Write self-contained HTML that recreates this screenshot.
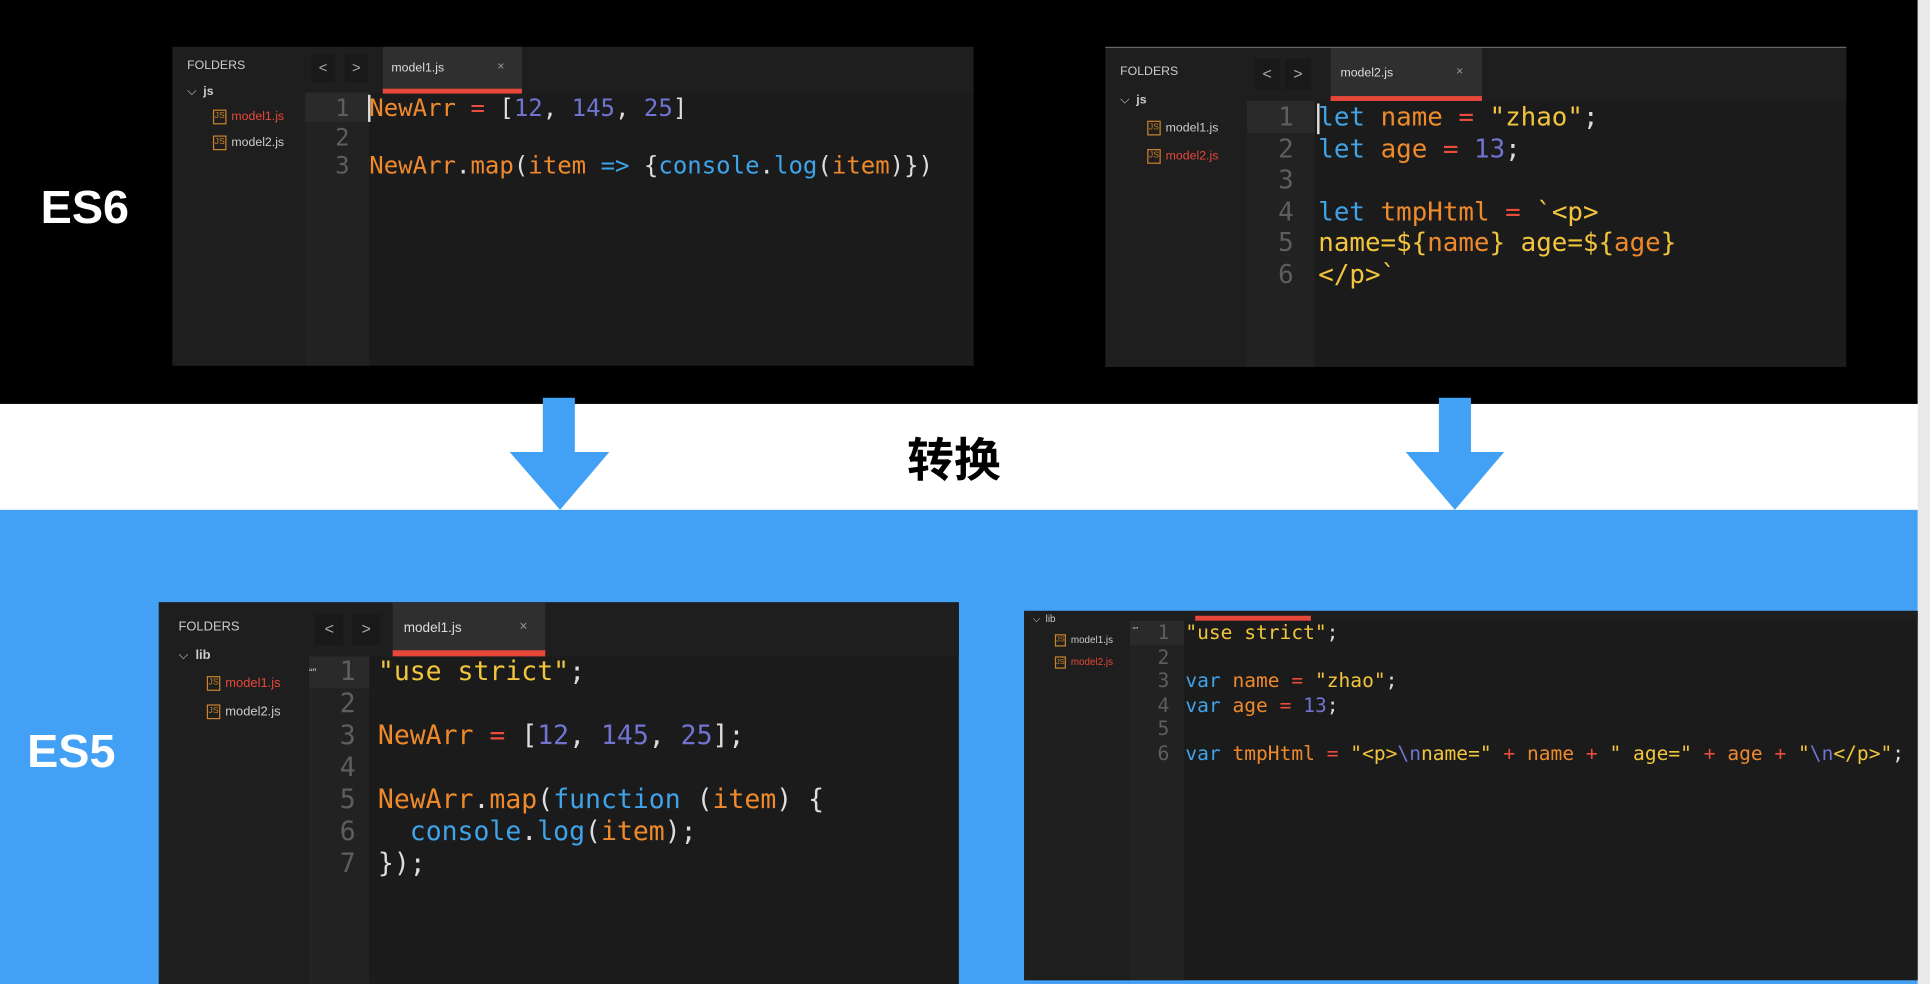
<!DOCTYPE html>
<html><head><meta charset="utf-8">
<style>
html,body{margin:0;padding:0;width:1930px;height:984px;overflow:hidden;background:#fff}
#w{position:absolute;left:0;top:0;width:1568px;height:799px;transform:scale(1.2309,1.2315);transform-origin:0 0;font-family:"Liberation Sans","Noto Sans CJK SC",sans-serif}
.a{position:absolute}
.ed{position:absolute;background:#1b1b1b;overflow:hidden}
.sb{position:absolute;left:0;top:0;bottom:0;background:#1e1e1e}
.gut{position:absolute;bottom:0;background:#222}
.tb{position:absolute;left:0;right:0;top:0;background:#1e1e1e}
.tab{position:absolute;top:0;background:#2f2f2f;color:#ddd}
.ul{position:absolute;background:#e5473b}
.nav{position:absolute;background:#191919;color:#aaa;text-align:center}
.code{position:absolute;font-family:"DejaVu Sans Mono","Liberation Mono",monospace;white-space:pre;color:#ddd}
.ln{position:absolute;font-family:"DejaVu Sans Mono","Liberation Mono",monospace;color:#5e5e5e;text-align:right;white-space:pre}
.o{color:#ef8a2c}.b{color:#3fa3e8}.p{color:#7074d0}.y{color:#f2c53d}.r{color:#ea4c3d}.w{color:#e4e4e4}
.f{position:absolute;color:#ccc;font-size:10px;white-space:nowrap}
.js{display:inline-block;border:1px solid #c8832c;color:#c8832c;font-size:7px;line-height:9px;width:9px;height:10px;text-align:center;margin-right:4px;vertical-align:middle}
.red{color:#e8483a}
</style></head><body><div id="w">
<div class="a" style="left:0;top:0;width:1558px;height:328px;background:#000"></div>
<div class="a" style="left:0;top:414px;width:1558px;height:385px;background:#42a0f5"></div>
<div class="a" style="left:1558px;top:0;width:10px;height:799px;background:#e9e9e9"></div>

<div class="a" style="left:33px;top:148px;color:#fff;font-weight:bold;font-size:38px">ES6</div>
<div class="a" style="left:22px;top:590px;color:#fff;font-weight:bold;font-size:38px">ES5</div>
<div class="a" style="left:737px;top:348px;color:#000;font-weight:bold;font-size:38px;font-family:'Noto Sans CJK SC',sans-serif;line-height:46px">转换</div>

<svg class="a" style="left:0;top:0" width="1568" height="420">
<rect x="441" y="323" width="26" height="45" fill="#42a0f5"/><polygon points="414,367 495,367 455,414" fill="#42a0f5"/>
<rect x="1169" y="323" width="26" height="45" fill="#42a0f5"/><polygon points="1142,367 1222,367 1182,414" fill="#42a0f5"/>
</svg>

<div class="ed" style="left:140px;top:38px;width:651px;height:259px">
 <div class="sb" style="width:108px"></div>
 <div class="gut" style="left:108px;top:37px;width:52px"></div>
 <div class="a" style="left:108px;top:37px;width:52px;height:24px;background:#2a2a2a"></div>
 <div class="tb" style="left:108px;height:37px"></div>
 <div class="nav" style="left:113px;top:6px;width:19px;height:23px;line-height:22px;font-size:12px">&lt;</div>
 <div class="nav" style="left:140px;top:6px;width:19px;height:23px;line-height:22px;font-size:12px">&gt;</div>
 <div class="tab" style="left:171px;width:113px;height:34px;font-size:10px"><span class="a" style="left:7px;top:12px">model1.js</span><span class="a" style="left:93px;top:11px;color:#999">×</span></div>
 <div class="ul" style="left:171px;top:34px;width:113px;height:4px"></div>
 <div class="f" style="left:12px;top:10px">FOLDERS</div>
 <div class="f" style="left:12px;top:31px">⌵ &nbsp;<b>js</b></div>
 <div class="f red" style="left:33px;top:51px"><span class="js">JS</span>model1.js</div>
 <div class="f" style="left:33px;top:72px"><span class="js">JS</span>model2.js</div>
 <div class="ln" style="left:108px;top:38px;width:36px;font-size:19.5px;line-height:23.5px">1
2
3</div>
 <div class="a" style="left:159px;top:39px;width:2px;height:22px;background:#ddd"></div>
 <div class="code" style="left:160px;top:38px;font-size:19.5px;line-height:23.5px"><span class="o">NewArr</span> <span class="r">=</span> [<span class="p">12</span>, <span class="p">145</span>, <span class="p">25</span>]

<span class="o">NewArr</span>.<span class="o">map</span>(<span class="o">item</span> <span class="b">=&gt;</span> {<span class="b">console</span>.<span class="b">log</span>(<span class="o">item</span>)})</div>
</div>

<div class="ed" style="left:898px;top:38px;width:602px;height:259px;border-top:1px solid #666">
 <div class="sb" style="width:115px"></div>
 <div class="gut" style="left:115px;top:43px;width:55px"></div>
 <div class="a" style="left:115px;top:43px;width:55px;height:26px;background:#2a2a2a"></div>
 <div class="tb" style="left:115px;height:43px"></div>
 <div class="nav" style="left:121px;top:9px;width:21px;height:25px;line-height:24px;font-size:13px">&lt;</div>
 <div class="nav" style="left:146px;top:9px;width:21px;height:25px;line-height:24px;font-size:13px">&gt;</div>
 <div class="tab" style="left:183px;width:123px;height:39px;font-size:10px"><span class="a" style="left:8px;top:15px">model2.js</span><span class="a" style="left:102px;top:14px;color:#999">×</span></div>
 <div class="ul" style="left:183px;top:39px;width:123px;height:4px"></div>
 <div class="f" style="left:12px;top:14px">FOLDERS</div>
 <div class="f" style="left:12px;top:37px">⌵ &nbsp;<b>js</b></div>
 <div class="f" style="left:34px;top:59px"><span class="js">JS</span>model1.js</div>
 <div class="f red" style="left:34px;top:82px"><span class="js">JS</span>model2.js</div>
 <div class="ln" style="left:115px;top:44px;width:38px;font-size:21px;line-height:25.5px">1
2
3
4
5
6</div>
 <div class="a" style="left:172px;top:45px;width:2px;height:25px;background:#ddd"></div>
 <div class="code" style="left:173px;top:44px;font-size:21px;line-height:25.5px"><span class="b">let</span> <span class="o">name</span> <span class="r">=</span> <span class="y">"zhao"</span>;
<span class="b">let</span> <span class="o">age</span> <span class="r">=</span> <span class="p">13</span>;

<span class="b">let</span> <span class="o">tmpHtml</span> <span class="r">=</span> <span class="y">`&lt;p&gt;
name=${</span><span class="o">name</span><span class="y">} age=${</span><span class="o">age</span><span class="y">}
&lt;/p&gt;`</span></div>
</div>

<div class="ed" style="left:129px;top:489px;width:650px;height:310px">
 <div class="sb" style="width:122px"></div>
 <div class="gut" style="left:122px;top:44px;width:49px"></div>
 <div class="a" style="left:122px;top:44px;width:49px;height:26px;background:#2a2a2a"></div>
 <div class="tb" style="left:122px;height:44px"></div>
 <div class="nav" style="left:127px;top:10px;width:23px;height:25px;line-height:24px;font-size:13px">&lt;</div>
 <div class="nav" style="left:157px;top:10px;width:23px;height:25px;line-height:24px;font-size:13px">&gt;</div>
 <div class="tab" style="left:190px;width:124px;height:39px;font-size:11px"><span class="a" style="left:9px;top:15px">model1.js</span><span class="a" style="left:103px;top:14px;color:#999">×</span></div>
 <div class="ul" style="left:190px;top:39px;width:124px;height:5px"></div>
 <div class="f" style="left:16px;top:14px;font-size:10.5px">FOLDERS</div>
 <div class="f" style="left:16px;top:37px;font-size:10.5px">⌵ &nbsp;<b>lib</b></div>
 <div class="f red" style="left:39px;top:60px;font-size:10.5px"><span class="js">JS</span>model1.js</div>
 <div class="f" style="left:39px;top:83px;font-size:10.5px"><span class="js">JS</span>model2.js</div>
 <div class="f" style="left:122px;top:52px;font-size:9px">“”</div>
 <div class="ln" style="left:122px;top:44px;width:38px;font-size:21.5px;line-height:26px">1
2
3
4
5
6
7</div>
 <div class="code" style="left:178px;top:44px;font-size:21.5px;line-height:26px"><span class="y">"use strict"</span>;

<span class="o">NewArr</span> <span class="r">=</span> [<span class="p">12</span>, <span class="p">145</span>, <span class="p">25</span>];

<span class="o">NewArr</span>.<span class="o">map</span>(<span class="b">function</span> (<span class="o">item</span>) {
  <span class="b">console</span>.<span class="b">log</span>(<span class="o">item</span>);
});</div>
</div>

<div class="ed" style="left:832px;top:496px;width:726px;height:300px">
 <div class="sb" style="width:86px"></div>
 <div class="gut" style="left:86px;top:8px;width:44px"></div>
 <div class="a" style="left:86px;top:8px;width:44px;height:20px;background:#2a2a2a"></div>
 <div class="tb" style="left:86px;height:8px"></div>
 <div class="ul" style="left:139px;top:4px;width:94px;height:4px"></div>
 <div class="f" style="left:7px;top:2px;font-size:8px">⌵ &nbsp;lib</div>
 <div class="f" style="left:25px;top:19px;font-size:8px"><span class="js" style="font-size:6px;width:7px;height:8px;line-height:8px">JS</span>model1.js</div>
 <div class="f red" style="left:25px;top:37px;font-size:8px"><span class="js" style="font-size:6px;width:7px;height:8px;line-height:8px">JS</span>model2.js</div>
 <div class="f" style="left:88px;top:13px;font-size:7px">“”</div>
 <div class="ln" style="left:86px;top:8px;width:32px;font-size:16px;line-height:19.5px">1
2
3
4
5
6</div>
 <div class="code" style="left:131px;top:8px;font-size:15.9px;line-height:19.5px"><span class="y">"use strict"</span>;

<span class="b">var</span> <span class="o">name</span> <span class="r">=</span> <span class="y">"zhao"</span>;
<span class="b">var</span> <span class="o">age</span> <span class="r">=</span> <span class="p">13</span>;

<span class="b">var</span> <span class="o">tmpHtml</span> <span class="r">=</span> <span class="y">"&lt;p&gt;<span class="p">\n</span>name="</span> <span class="r">+</span> <span class="o">name</span> <span class="r">+</span> <span class="y">" age="</span> <span class="r">+</span> <span class="o">age</span> <span class="r">+</span> <span class="y">"<span class="p">\n</span>&lt;/p&gt;"</span>;</div>
</div>
</div></body></html>
